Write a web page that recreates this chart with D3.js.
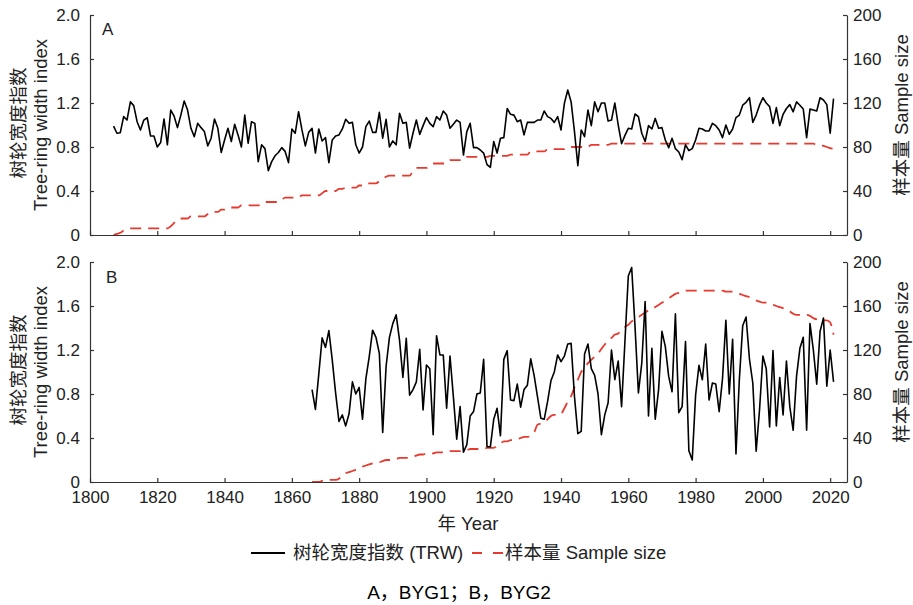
<!DOCTYPE html>
<html><head><meta charset="utf-8">
<script src="https://cdn.jsdelivr.net/npm/d3@7/dist/d3.min.js"></script>
<style>
body{margin:0;background:#fff}
svg text{font-family:"Liberation Sans",Arial,"Noto Sans CJK SC",sans-serif;}
</style>
</head><body>
<svg id="chart" width="913" height="605"></svg>
<script>
// ---------------- data ----------------
const startA = 1807;
const trwA = [
  0.99,0.925,0.93,
  1.076,1.045,1.21,1.176,1.03,0.955,1.045,1.066,0.9,0.9,
  0.8,0.84,1.055,0.82,1.136,1.08,0.976,1.09,1.218,1.136,
  0.97,0.894,1.015,0.976,0.94,0.81,0.88,1.055,0.97,0.75,
  0.864,0.97,0.85,1.006,0.91,0.8,1.09,0.834,1.03,1.015,
  0.667,0.82,0.785,0.585,0.667,0.72,0.75,0.794,0.76,0.658,
  0.964,0.925,1.121,0.955,0.81,0.933,0.97,0.745,0.964,0.855,
  0.885,0.658,0.864,0.9,0.91,0.964,1.052,1.015,1.024,0.82,
  0.745,0.8,0.985,1.036,0.933,0.933,1.115,0.88,1.052,0.8,
  0.855,0.82,1.106,1.015,1.024,0.79,0.925,1.045,0.915,0.994,
  1.067,1.015,0.985,1.076,1.045,1.127,1.09,0.97,1.006,1.045,
  1.024,0.727,0.94,1.015,0.794,0.794,0.773,0.745,0.64,0.615,
  0.85,0.745,0.88,0.885,1.15,1.097,1.09,1.03,1.045,0.91,
  1.024,1.024,1.024,1.045,1.045,1.127,1.076,1.06,1.024,1.076,
  0.955,1.197,1.318,1.21,0.94,0.63,0.955,0.894,1.136,0.994,
  1.21,1.12,1.2,1.2,1.036,1.045,1.2,1.0,0.83,0.906,
  0.97,0.964,1.1,1.076,0.925,0.85,0.994,0.964,1.06,0.97,
  0.976,0.864,0.794,0.88,0.785,0.755,0.685,0.82,0.767,0.785,
  0.864,0.97,0.964,0.946,0.946,1.015,0.994,0.955,0.885,1.0,
  0.915,0.964,1.067,1.09,1.18,1.206,1.248,1.024,1.09,1.18,
  1.248,1.2,1.167,1.015,1.158,0.994,1.097,1.15,1.185,1.12,
  1.21,1.18,1.145,0.885,1.145,1.136,1.127,1.248,1.227,1.185,
  0.925,1.24
];
const sampleA = [
  0,1,2,
  4,5,6,6,6,6,6,6,6,6,
  6,6,6,6,8,11,14,15,15,15,
  17,17,17,17,17,19,21,21,21,23,
  23,25,25,25,25,27,27,27,27,27,
  27,28,30,30,30,30,30,32,34,34,
  34,34,34,36,36,36,36,36,36,38,
  40,40,40,40,42,42,43,43,43,43,
  45,45,47,47,47,47,49,51,53,54,
  54,54,54,54,54,54,58,61,61,61,
  61,63,65,65,65,65,65,68,68,68,
  68,68,71,71,71,71,71,71,71,72,
  72,72,72,72,72,73,73,73,73,73,
  73,76,76,76,76,76,78,78,78,78,
  78,78,80,80,80,80,80,80,80,82,
  82,82,82,82,82,83,83,83,83,83,
  83,83,83,83,83,83,83,83,83,83,
  83,83,83,83,83,83,83,83,83,83,
  83,83,83,83,83,83,83,83,83,83,
  83,83,83,83,83,83,83,83,83,83,
  83,83,83,83,83,83,83,83,83,83,
  83,83,83,83,83,83,82,82,81,80,
  79,78
];
const startB = 1866;
const trwB = [
  0.84,0.66,0.98,1.31,
  1.224,1.376,1.11,0.81,0.55,0.61,0.51,0.62,0.91,0.8,
  0.86,0.57,0.94,1.14,1.38,1.315,1.17,0.45,1.05,1.315,
  1.44,1.52,1.29,0.95,1.306,0.79,0.84,0.91,1.206,0.655,
  1.064,1.03,0.43,1.33,1.155,1.155,0.67,1.145,0.776,0.39,
  0.685,0.27,0.34,0.6,0.64,0.8,0.81,1.115,0.32,0.32,
  0.57,0.67,0.42,1.115,1.194,0.745,0.74,0.89,0.68,0.84,
  0.88,1.12,0.97,0.776,0.58,0.57,0.73,0.92,1.0,1.155,
  1.094,1.145,1.255,1.26,0.776,0.44,0.46,1.164,1.255,1.03,
  0.97,0.8,0.43,0.61,0.72,1.2,0.93,1.1,0.685,1.28,
  1.873,1.95,1.41,0.81,1.08,1.64,0.6,1.215,0.57,0.84,
  1.37,1.23,0.96,0.82,1.53,0.63,0.685,1.276,0.285,0.2,
  0.79,1.06,0.93,1.255,0.745,0.9,0.89,0.64,0.94,1.47,
  0.8,1.297,0.255,0.93,1.42,1.5,1.12,0.9,0.28,0.655,
  1.145,1.03,0.5,1.194,0.51,0.95,0.61,1.1,0.685,0.47,
  0.96,1.215,1.315,0.47,1.44,1.2,0.89,1.37,1.49,0.87,
  1.2,0.91
];
const sampleB = [
  0,0,0,1,
  1,2,2,2,3,6,8,9,10,11,
  12,14,15,16,17,18,18,19,20,20,
  21,21,22,22,22,22,23,24,25,25,
  26,26,26,27,27,27,27,28,28,28,
  28,29,29,30,30,30,30,30,31,31,
  31,33,35,37,37,38,38,39,40,41,
  41,42,45,52,53,54,57,60,61,61,
  62,67,73,78,86,93,100,104,108,111,
  114,117,121,125,129,131,134,135,138,141,
  143,146,148,150,152,154,156,157,159,161,
  163,165,167,169,171,172,173,174,174,174,
  174,174,174,174,174,174,174,174,174,173,
  173,173,172,171,170,169,168,166,165,164,
  163,163,162,161,160,159,158,157,155,153,
  152,152,152,152,151,149,148,148,147,147,
  145,134
];
const xTickValues = [1800,1820,1840,1860,1880,1900,1920,1940,1960,1980,2000,2020];
const yLeftTickValues = [0,0.4,0.8,1.2,1.6,2.0];
const yRightTickValues = [0,40,80,120,160,200];
const panelLabels = ["A","B"];
const leftTitle = ["树轮宽度指数","Tree-ring width index"];
const rightTitle = "样本量 Sample size";
const xTitle = "年 Year";
const legendLabels = ["树轮宽度指数 (TRW)","样本量 Sample size"];
const caption = "A，BYG1；B，BYG2";

// ---------------- drawing ----------------
const svg = d3.select("#chart");
const L = 90, R = 847;
const axisColor = "#333";
const textColor = "#222";
const red = "#e8392f";
const fs = 17, fsTitle = 18.5;

const x = d3.scaleLinear().domain([1800, 2025]).range([L, R]);

const panels = [
  {label: panelLabels[0], top: 15, bottom: 235, trw: trwA, n: sampleA, start: startA, xlabels: false, labelPos:[102,35]},
  {label: panelLabels[1], top: 262, bottom: 482, trw: trwB, n: sampleB, start: startB, xlabels: true, labelPos:[106,283]}
];

panels.forEach(p => {
  const yL = d3.scaleLinear().domain([0, 2]).range([p.bottom, p.top]);
  const yR = d3.scaleLinear().domain([0, 200]).range([p.bottom, p.top]);
  const g = svg.append("g");

  const nData = p.n.map((v, i) => [p.start + i, v]);
  g.append("path").datum(nData)
    .attr("fill", "none").attr("stroke", red).attr("stroke-width", 1.8)
    .attr("stroke-dasharray", "11,7")
    .attr("d", d3.line().x(d => x(d[0])).y(d => yR(d[1])).curve(d3.curveMonotoneX));

  const tData = p.trw.map((v, i) => [p.start + i, v]);
  g.append("path").datum(tData)
    .attr("fill", "none").attr("stroke", "#000").attr("stroke-width", 1.6)
    .attr("stroke-linejoin", "round")
    .attr("d", d3.line().x(d => x(d[0])).y(d => yL(d[1])));

  const ax = d3.axisBottom(x).tickValues(xTickValues).tickSizeInner(-4).tickSizeOuter(0).tickPadding(9)
    .tickFormat(p.xlabels ? d3.format("d") : () => "");
  const gx = g.append("g").attr("transform", `translate(0,${p.bottom})`).call(ax);

  const al = d3.axisLeft(yL).tickValues(yLeftTickValues).tickSizeInner(-4).tickSizeOuter(0).tickPadding(10)
    .tickFormat(d => d === 0 ? "0" : d3.format(".1f")(d));
  const gl = g.append("g").attr("transform", `translate(${L},0)`).call(al);

  const ar = d3.axisRight(yR).tickValues(yRightTickValues).tickSizeInner(-4).tickSizeOuter(0).tickPadding(6)
    .tickFormat(d3.format("d"));
  const gr = g.append("g").attr("transform", `translate(${R},0)`).call(ar);

  [gx, gl, gr].forEach(a => {
    a.select(".domain").attr("stroke", axisColor).attr("stroke-width", 1.2);
    a.selectAll(".tick line").attr("stroke", axisColor).attr("stroke-width", 1.2);
    a.selectAll(".tick text").attr("fill", textColor).style("font-size", fs + "px").attr("font-family", null);
  });

  g.append("text").attr("x", p.labelPos[0]).attr("y", p.labelPos[1])
    .attr("fill", textColor).style("font-size", fs + "px").text(p.label);

  const cy = (p.top + p.bottom) / 2;
  g.append("text").attr("transform", `translate(25,${cy - 2}) rotate(-90)`)
    .attr("text-anchor", "middle").attr("fill", textColor).style("font-size", fsTitle + "px").text(leftTitle[0]);
  g.append("text").attr("transform", `translate(47,${cy}) rotate(-90)`)
    .attr("text-anchor", "middle").attr("fill", textColor).style("font-size", fsTitle + "px").text(leftTitle[1]);

  g.append("text").attr("transform", `translate(908,${cy - 10}) rotate(-90)`)
    .attr("text-anchor", "middle").attr("fill", textColor).style("font-size", fsTitle + "px").text(rightTitle);
});

svg.append("text").attr("x", 468).attr("y", 530).attr("text-anchor", "middle")
  .attr("fill", textColor).style("font-size", fsTitle + "px").text(xTitle);

const ly = 553;
svg.append("line").attr("x1", 251).attr("x2", 285).attr("y1", ly).attr("y2", ly)
  .attr("stroke", "#000").attr("stroke-width", 2);
svg.append("text").attr("x", 293).attr("y", ly + 6).attr("fill", textColor)
  .style("font-size", fsTitle + "px").text(legendLabels[0]);
svg.append("line").attr("x1", 472).attr("x2", 503).attr("y1", ly).attr("y2", ly)
  .attr("stroke", red).attr("stroke-width", 2).attr("stroke-dasharray", "10,11");
svg.append("text").attr("x", 505).attr("y", ly + 6).attr("fill", textColor)
  .style("font-size", fsTitle + "px").text(legendLabels[1]);

svg.append("text").attr("x", 459).attr("y", 599).attr("text-anchor", "middle")
  .attr("fill", "#000").style("font-size", "19px").text(caption);
</script>
</body></html>
